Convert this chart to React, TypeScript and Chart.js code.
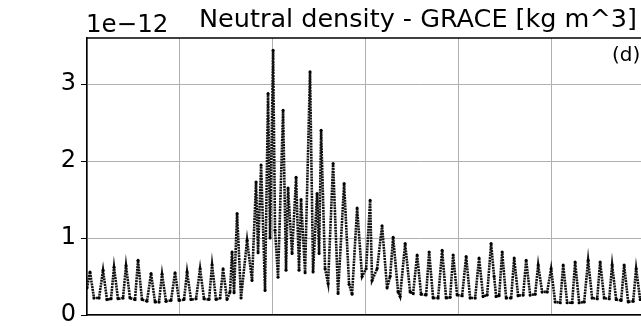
import React, { useEffect, useRef } from "react";
import { Chart, registerables } from "chart.js";

Chart.register(...registerables);

// Time since start of plotted interval [hours]
const TIME_H = [
  0, 0.39, 0.9, 1.55, 2.07, 2.58, 3.1, 3.49, 4.0, 4.65, 5.04, 5.55, 6.2, 6.59, 7.1, 7.75,
  8.27, 8.78, 9.3, 9.69, 10.2, 10.85, 11.37, 11.88, 12.53, 12.92, 13.43, 14.08, 14.6, 15.11,
  15.76, 16.15, 16.66, 17.18, 17.57, 18.08, 18.47, 18.73, 18.99, 19.38, 19.89, 20.67, 21.31,
  21.83, 22.09, 22.48, 22.99, 23.38, 23.64, 24.03, 24.28, 24.67, 25.32, 25.7, 25.96, 26.48,
  27.0, 27.38, 27.64, 28.16, 28.8, 29.19, 29.71, 29.97, 30.23, 30.74, 31.13, 31.78, 32.42,
  33.2, 33.84, 34.23, 34.88, 35.52, 36.04, 36.56, 36.81, 37.46, 38.1, 38.75, 39.14, 39.53,
  40.17, 40.43, 41.08, 41.72, 42.11, 42.63, 43.14, 43.79, 44.18, 44.69, 45.34, 45.86, 46.37,
  46.89, 47.28, 47.79, 48.44, 48.96, 49.47, 50.12, 50.63, 51.15, 51.67, 52.18, 52.57, 52.83,
  53.22, 53.61, 54.12, 54.77, 55.16, 55.67, 56.32, 56.71, 57.22, 57.87, 58.26, 58.77, 59.42,
  59.93, 60.45, 61.1, 61.49, 62.0, 62.65, 63.03, 63.55, 64.2, 64.71, 65.23, 65.88, 66.26,
  66.78, 67.43, 67.81, 68.33, 68.98, 69.36, 69.88, 70.53, 70.91, 71.43, 72.08, 72.46, 72.98,
];

// Neutral density [1e-12 kg m^-3]
const DENSITY_E12 = [
  0.35, 0.56, 0.22, 0.22, 0.58, 0.2, 0.21, 0.62, 0.21, 0.22, 0.64, 0.22, 0.2, 0.71, 0.2, 0.18,
  0.54, 0.17, 0.17, 0.53, 0.18, 0.19, 0.55, 0.19, 0.2, 0.56, 0.2, 0.21, 0.6, 0.21,
  0.2, 0.65, 0.2, 0.22, 0.6, 0.2, 0.3, 0.82, 0.29, 1.32, 0.22, 0.97, 0.45,
  1.73, 0.81, 1.95, 0.32, 2.88, 1.0, 3.44, 1.1, 0.49, 2.66, 0.58, 1.65, 0.8,
  1.79, 0.58, 1.5, 0.55, 3.16, 0.56, 1.58, 0.8, 2.4, 0.6, 0.41, 1.97, 0.28,
  1.71, 0.4, 0.27, 1.39, 0.5, 0.6, 1.49, 0.45, 0.6, 1.16, 0.35, 0.5, 1.01,
  0.3, 0.24, 0.93, 0.3, 0.28, 0.78, 0.27, 0.26, 0.82, 0.22, 0.22, 0.84, 0.22,
  0.23, 0.78, 0.26, 0.25, 0.76, 0.22, 0.22, 0.74, 0.24, 0.26, 0.93, 0.5, 0.24,
  0.25, 0.82, 0.22, 0.22, 0.74, 0.25, 0.26, 0.71, 0.26, 0.27, 0.65, 0.3, 0.3,
  0.6, 0.17, 0.16, 0.65, 0.16, 0.16, 0.69, 0.16, 0.17, 0.71, 0.22, 0.21, 0.69,
  0.22, 0.21, 0.65, 0.2, 0.19, 0.65, 0.17, 0.18, 0.6, 0.2, 0.2, 0.62, 0.2,
];

const Y_TICKS = [0, 1, 2, 3];
const TITLE = "Neutral density - GRACE [kg m^3]";
const OFFSET_TEXT = "1e\u221212";
const PANEL_LABEL = "(d)";

const FONT = '"DejaVu Sans", sans-serif';

const overlay = {
  id: "overlay",
  afterDraw(chart: any) {
    const { ctx, chartArea } = chart;
    ctx.save();
    ctx.strokeStyle = "#000";
    ctx.lineWidth = 1.5;
    ctx.beginPath();
    ctx.moveTo(chartArea.left, chartArea.top);
    ctx.lineTo(chartArea.right, chartArea.top);
    ctx.stroke();
    ctx.fillStyle = "#000";
    ctx.textAlign = "left";
    ctx.textBaseline = "alphabetic";
    ctx.font = `25.5px ${FONT}`;
    ctx.fillText(TITLE, 199, 27);
    ctx.font = `24.5px ${FONT}`;
    ctx.fillText(OFFSET_TEXT, 86, 32);
    ctx.font = `20px ${FONT}`;
    ctx.fillText(PANEL_LABEL, 612, 61);
    ctx.restore();
  },
};

export default function App() {
  const ref = useRef<HTMLCanvasElement | null>(null);
  useEffect(() => {
    if (!ref.current) return;
    const data = TIME_H.map((t, i) => ({ x: t, y: DENSITY_E12[i] }));
    const chart = new Chart(ref.current, {
      type: "line",
      data: {
        datasets: [
          {
            data,
            borderColor: "#111",
            borderWidth: 2.6,
            borderDash: [2, 0.8],
            pointRadius: 1.5,
            pointBackgroundColor: "#000",
            pointBorderWidth: 0,
            tension: 0,
          },
        ],
      },
      options: {
        animation: false,
        responsive: false,
        devicePixelRatio: 1,
        layout: { padding: { top: 38, left: 0, right: 17, bottom: 51 } },
        plugins: { legend: { display: false }, tooltip: { enabled: false }, title: { display: false } },
        scales: {
          x: {
            type: "linear",
            min: 0,
            max: 86,
            ticks: { display: false, stepSize: 12, includeBounds: false },
            grid: { color: "#b0b0b0", lineWidth: 1, drawTicks: false },
            border: { color: "#000", width: 1.5 },
            afterFit: (s: any) => {
              s.height = 0;
            },
          },
          y: {
            min: 0,
            max: 3.6,
            afterBuildTicks: (s: any) => {
              s.ticks = Y_TICKS.map((v) => ({ value: v }));
            },
            ticks: {
              stepSize: 1,
              includeBounds: false,
              color: "#000",
              padding: 5,
              font: { family: FONT, size: 24 },
            },
            grid: { color: "#b0b0b0", lineWidth: 1, tickLength: 6, tickColor: "#000" },
            border: { color: "#000", width: 1.5 },
            afterFit: (s: any) => {
              s.width = 87;
            },
          },
        },
      },
      plugins: [overlay],
    });
    return () => chart.destroy();
  }, []);
  return (
    <div
      style={{
        position: "fixed",
        left: 0,
        top: 0,
        width: 641,
        height: 326,
        overflow: "hidden",
        background: "#fff",
      }}
    >
      <canvas ref={ref} width={770} height={366} style={{ width: 770, height: 366, display: "block" }} />
    </div>
  );
}
